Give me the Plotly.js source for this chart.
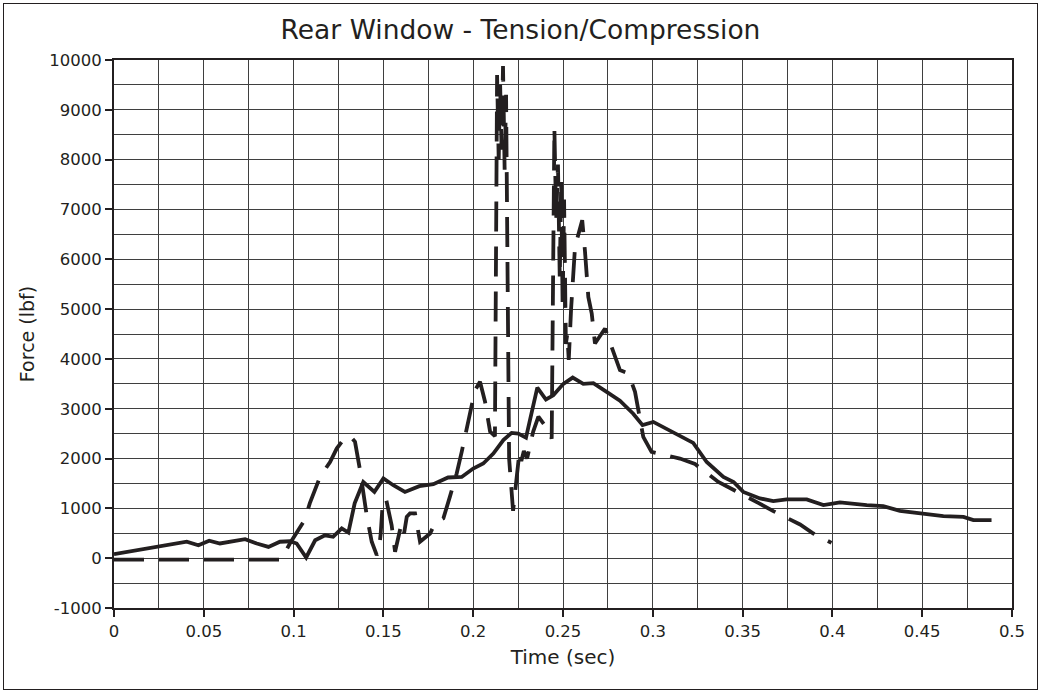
<!DOCTYPE html>
<html>
<head>
<meta charset="utf-8">
<script src="https://cdn.plot.ly/plotly-3.0.1.min.js"></script>
<style>
  html, body { margin: 0; padding: 0; background: #fff; }
  #wrap { position: relative; width: 1041px; height: 694px; }
  #chart { position: absolute; left: 0; top: 0; width: 1041px; height: 694px; }
  #frame { position: absolute; left: 3px; top: 3px; width: 1033px; height: 685px;
           border: 1.5px solid #231f20; pointer-events: none; }
</style>
</head>
<body>
<div id="wrap"><div id="chart"></div><div id="frame"></div></div>
<script>
// Solid series
const solidTime = [0, 0.025, 0.0405, 0.047, 0.053, 0.059, 0.066, 0.073, 0.0795, 0.086, 0.0924, 0.098, 0.1017, 0.107, 0.112, 0.1175, 0.122, 0.1268, 0.1305, 0.134, 0.1388, 0.145, 0.15, 0.1555, 0.162, 0.170, 0.1778, 0.186, 0.1936, 0.2, 0.2056, 0.2112, 0.2168, 0.2214, 0.2251, 0.2294, 0.2316, 0.2357, 0.2405, 0.2446, 0.2502, 0.2554, 0.2613, 0.2669, 0.2743, 0.2817, 0.2891, 0.2943, 0.3003, 0.3077, 0.3151, 0.3225, 0.33, 0.3393, 0.345, 0.3504, 0.3597, 0.3671, 0.3745, 0.3857, 0.395, 0.4042, 0.4191, 0.4283, 0.4376, 0.4488, 0.4618, 0.473, 0.4785, 0.4886];
const solidForce = [80, 240, 330, 260, 350, 295, 340, 380, 295, 227, 330, 340, 295, 14, 360, 460, 430, 600, 515, 1100, 1530, 1330, 1600, 1465, 1330, 1445, 1485, 1620, 1630, 1800, 1900, 2100, 2370, 2515, 2500, 2420, 2770, 3425, 3185, 3270, 3500, 3625, 3500, 3515, 3340, 3160, 2900, 2670, 2735, 2600, 2450, 2315, 1930, 1630, 1530, 1330, 1200, 1145, 1180, 1180, 1065, 1120, 1065, 1045, 950, 900, 845, 830, 765, 765];

// Dashed series
const dashTime = [0, 0.093, 0.098, 0.1063, 0.109, 0.1147, 0.1203, 0.124, 0.1286, 0.1315, 0.1342, 0.137, 0.1407, 0.1435, 0.1463, 0.1475, 0.1485, 0.1496, 0.1514, 0.1546, 0.1565, 0.1583, 0.1601, 0.1615, 0.163, 0.1648, 0.1676, 0.1704, 0.173, 0.176, 0.1787, 0.1834, 0.187, 0.1908, 0.1936, 0.197, 0.1991, 0.201, 0.2038, 0.2066, 0.2094, 0.2121, 0.2133, 0.2142, 0.2150, 0.2158, 0.2166, 0.2175, 0.2183, 0.2190, 0.2200, 0.2222, 0.2245, 0.2258, 0.2268, 0.2282, 0.2300, 0.2334, 0.2363, 0.239, 0.2418, 0.2437, 0.2452, 0.2462, 0.2472, 0.2482, 0.2490, 0.2498, 0.2506, 0.2516, 0.2524, 0.2532, 0.2545, 0.2567, 0.2607, 0.2622, 0.2641, 0.266, 0.2678, 0.2734, 0.2784, 0.2817, 0.2864, 0.2901, 0.2947, 0.2993, 0.3151, 0.3235, 0.3365, 0.3448, 0.3587, 0.3671, 0.382, 0.3894, 0.3995];
const dashForce = [-30, -30, 300, 775, 1100, 1630, 1930, 2200, 2420, 2450, 2335, 1765, 860, 330, 60, 160, 495, 1100, 1200, 660, 130, 460, 700, 495, 830, 900, 900, 330, 400, 495, 700, 800, 1230, 1700, 2135, 2705, 3040, 3370, 3540, 3140, 2540, 2450, 9700, 8000, 9500, 8200, 9880, 7800, 9300, 6000, 2000, 950, 1700, 2150, 1950, 2150, 2000, 2540, 2840, 2710, 2570, 2400, 8630, 6800, 7900, 5600, 7600, 5000, 7200, 4300, 4500, 3980, 5000, 6250, 6785, 6180, 5245, 4910, 4310, 4610, 4075, 3775, 3710, 3340, 2435, 2135, 2000, 1890, 1530, 1365, 1110, 945, 676, 495, 307];

// Tick labels
const xTickVals = [0, 0.05, 0.1, 0.15, 0.2, 0.25, 0.3, 0.35, 0.4, 0.45, 0.5];
const xTickText = ['0', '0.05', '0.1', '0.15', '0.2', '0.25', '0.3', '0.35', '0.4', '0.45', '0.5'];
const yTickVals = [-1000, 0, 1000, 2000, 3000, 4000, 5000, 6000, 7000, 8000, 9000, 10000];
const yTickText = ['-1000', '0', '1000', '2000', '3000', '4000', '5000', '6000', '7000', '8000', '9000', '10000'];

const ink = '#231f20';
const gridc = '#3f3f3f';
const fontFam = '"DejaVu Sans", "Liberation Sans", Arial, sans-serif';

const traces = [
  { x: dashTime, y: dashForce, type: 'scatter', mode: 'lines',
    line: { color: ink, width: 3.8, dash: '30px,15px' }, hoverinfo: 'skip' },
  { x: solidTime, y: solidForce, type: 'scatter', mode: 'lines',
    line: { color: ink, width: 3.8 }, hoverinfo: 'skip' }
];

const layout = {
  width: 1041, height: 694,
  margin: { l: 114, r: 29, t: 60, b: 86 },
  paper_bgcolor: '#ffffff', plot_bgcolor: '#ffffff',
  showlegend: false,
  font: { family: fontFam, color: ink, size: 16 },
  title: { text: 'Rear Window - Tension/Compression', font: { size: 26.5, family: fontFam, color: ink },
           x: 0.5, xref: 'container', y: 1 - 30/694, yref: 'container', yanchor: 'middle' },
  xaxis: {
    range: [0, 0.5], tickvals: xTickVals, ticktext: xTickText,
    showgrid: true, gridcolor: gridc, gridwidth: 1,
    minor: { dtick: 0.025, tick0: 0, showgrid: true, gridcolor: gridc, gridwidth: 1 },
    zeroline: false, showline: true, linecolor: ink, linewidth: 2, mirror: true,
    ticks: 'outside', ticklen: 7, tickwidth: 2, tickcolor: ink,
    tickfont: { size: 16.5, family: fontFam, color: ink },
    title: { text: 'Time (sec)', font: { size: 20, family: fontFam, color: ink }, standoff: 10 }
  },
  yaxis: {
    range: [-1000, 10000], tickvals: yTickVals, ticktext: yTickText,
    showgrid: true, gridcolor: gridc, gridwidth: 1,
    minor: { dtick: 500, tick0: 0, showgrid: true, gridcolor: gridc, gridwidth: 1 },
    zeroline: false, showline: true, linecolor: ink, linewidth: 2, mirror: true,
    ticks: 'outside', ticklen: 7, tickwidth: 2, tickcolor: ink,
    tickfont: { size: 16.5, family: fontFam, color: ink },
    title: { text: 'Force (lbf)', font: { size: 19, family: fontFam, color: ink }, standoff: 10 }
  }
};

Plotly.newPlot('chart', traces, layout, { displayModeBar: false, staticPlot: true });
</script>
</body>
</html>
